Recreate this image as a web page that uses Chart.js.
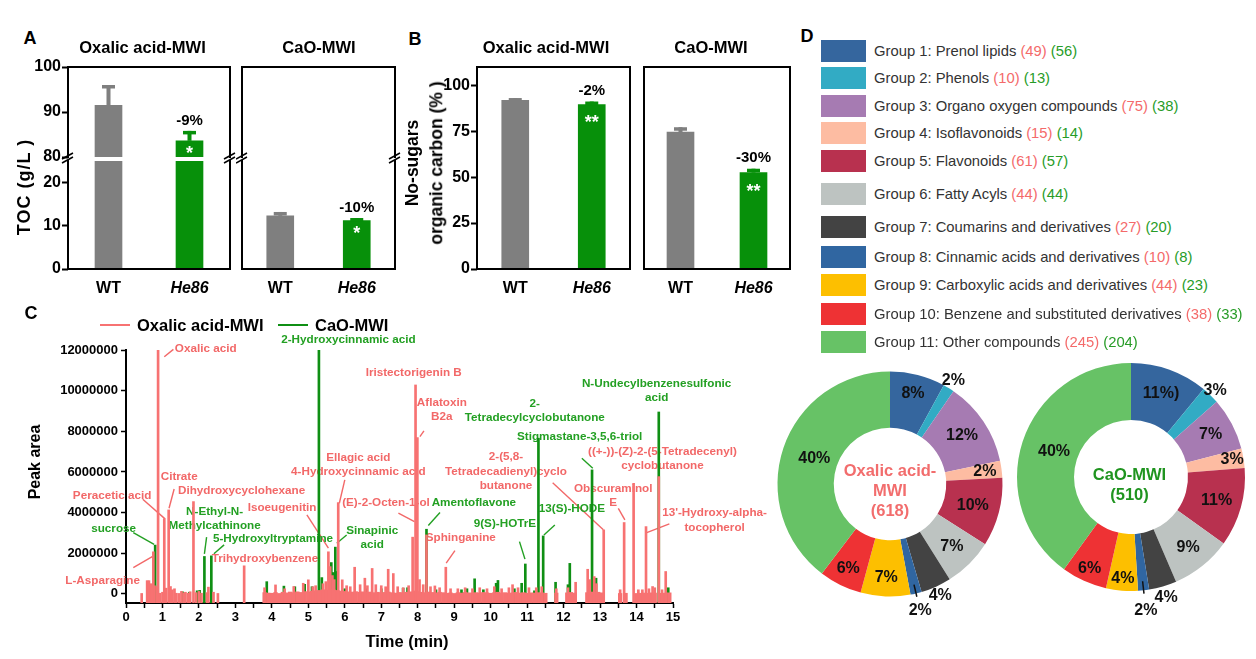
<!DOCTYPE html>
<html>
<head>
<meta charset="utf-8">
<title>Organic carbon and metabolite profiles</title>
<script src="https://cdn.jsdelivr.net/npm/chart.js@4.4.1/dist/chart.umd.min.js"></script>
<style>
  html, body { margin: 0; padding: 0; background: #fff; }
  #page { position: relative; width: 1256px; height: 659px; overflow: hidden;
          font-family: "Liberation Sans", Arial, sans-serif; color: #000; }
  #page canvas { position: absolute; }
  .txt { position: absolute; transform: translate(-50%, -50%); white-space: nowrap;
         line-height: 1; font-weight: bold; }
  .txt.left { transform: translate(0, -50%); }
  .txt.rot { transform: translate(-50%, -50%) rotate(-90deg); }
  .row { position: absolute; left: 821px; height: 22px; display: flex; align-items: center;
         font-size: 14.8px; color: #333; white-space: nowrap; }
  .sw { display: inline-block; width: 45px; height: 22px; margin-right: 8px; }
  .red { color: #f46a6a; }
  .green { color: #279c27; }
  .key { position: absolute; height: 2.5px; }
</style>
</head>
<body>
<div id="page"></div>
<script>
const fam = '"Liberation Sans", Arial, sans-serif';
Chart.defaults.font.family = fam;
Chart.defaults.color = '#000';
Chart.defaults.animation = false;

// ---------- data ----------
const treatments = ['WT', 'He86'];
const treatmentColors = ['#7f7f7f', '#07900a'];

// A: TOC (g/L)
const tocOxalic = [91.5, 83.6];
const tocOxalicErr = [4.5, 2.2];
const tocOxalicNote = ['', '-9%'];
const tocCao = [12.3, 11.2];
const tocCaoErr = [0.9, 0.6];
const tocCaoNote = ['', '-10%'];
const tocStars = ['', '*'];

// B: no-sugars organic carbon (%)
const nsocOxalic = [91.8, 89.6];
const nsocOxalicErr = [1.3, 1.6];
const nsocOxalicNote = ['', '-2%'];
const nsocCao = [74.6, 52.5];
const nsocCaoErr = [2.6, 2.1];
const nsocCaoNote = ['', '-30%'];
const nsocStars = ['', '**'];

// C: peak areas vs retention time (min)
const areaTicks = [0, 2000000, 4000000, 6000000, 8000000, 10000000, 12000000];
const oxalicPeakTimes = [0.43, 0.58, 0.63, 0.68, 0.72, 0.75, 0.78, 0.84, 0.88, 0.93, 1.0, 1.05, 1.1, 1.17, 1.22, 1.27, 1.33, 1.38, 1.45, 1.52, 1.58, 1.63, 1.7, 1.76, 1.85, 1.92, 2.0, 2.07, 2.22, 2.26, 2.4, 2.52, 3.24,
  3.8, 4.1, 4.35, 4.6, 4.86, 5.0, 5.12, 5.2, 5.4, 5.48, 5.55, 5.6, 5.66, 5.71, 5.82, 5.93, 6.05, 6.15, 6.27, 6.42, 6.55, 6.62, 6.75, 6.85, 7.0, 7.12, 7.19, 7.33, 7.45, 7.6, 7.75, 7.86, 7.94, 7.99,
  8.05, 8.15, 8.24, 8.35, 8.47, 8.6, 8.77, 8.9, 9.1, 9.3, 9.5, 9.7, 9.9, 10.1, 10.3, 10.5, 10.6, 10.75, 11.05, 11.25, 11.4, 11.8, 12.12, 12.33, 12.66, 12.72, 12.84, 12.9, 13.1, 13.55, 13.66, 13.92,
  14.05, 14.16, 14.26, 14.34, 14.44, 14.5, 14.61, 14.7, 14.8];
const oxalicPeakAreas = [20000, 650000, 650000, 500000, 360000, 2070000, 400000, 360000, 12000000, 30000, 80000, 3700000, 280000, 4130000, 360000, 200000, 250000, 30000, 20000, 120000, 50000, 80000, 30000, 100000, 4540000, 60000, 120000, 30000, 60000, 330000, 80000, 20000, 1380000,
  300000, 440000, 250000, 360000, 520000, 690000, 350000, 400000, 500000, 600000, 2070000, 1340000, 900000, 700000, 4490000, 690000, 400000, 350000, 1310000, 450000, 770000, 400000, 1250000, 450000, 400000, 350000, 1210000, 1000000, 350000, 300000, 400000, 2790000, 10280000, 7690000,
  700000, 450000, 2900000, 350000, 390000, 300000, 1310000, 250000, 250000, 300000, 250000, 300000, 250000, 350000, 250000, 300000, 450000, 300000, 300000, 300000, 350000, 250000, 300000, 570000, 1210000, 700000, 850000, 500000, 3150000, 200000, 3510000, 5440000,
  200000, 200000, 3310000, 250000, 360000, 300000, 5770000, 200000, 1100000];
const oxalicBaseTimes = [3.8, 3.9, 4.0, 4.1, 4.2, 4.3, 4.4, 4.5, 4.6, 4.7, 4.8, 4.9, 5.0, 5.1, 5.2, 5.3, 5.4, 5.5, 5.6, 5.7, 5.8, 5.9, 6.0, 6.1, 6.2, 6.3, 6.4, 6.5, 6.6, 6.7, 6.8, 6.9, 7.0, 7.1, 7.2, 7.3, 7.4, 7.5, 7.6, 7.7, 7.8, 7.9,
  8.0, 8.1, 8.2, 8.3, 8.4, 8.5, 8.6, 8.7, 8.8, 8.9, 9.0, 9.1, 9.2, 9.3, 9.4, 9.5, 9.6, 9.7, 9.8, 9.9, 10.0, 10.1, 10.2, 10.3, 10.4, 10.5, 10.6, 10.7, 10.8, 10.9, 11.0, 11.1, 11.2, 11.3, 11.4, 11.5,
  11.8, 12.1, 12.2, 12.3, 12.65, 12.75, 12.85, 12.95, 13.05, 13.55, 13.7, 14.0, 14.1, 14.2, 14.3, 14.4, 14.5, 14.7, 14.8, 14.9];
const oxalicBaseAreas = [60000, 40000, 30000, 70000, 20000, 80000, 50000, 90000, 60000, 100000, 70000, 110000, 90000, 130000, 150000, 170000, 200000, 180000, 210000, 190000, 170000, 140000, 120000, 100000, 90000, 110000, 80000, 100000, 70000, 90000, 60000, 80000, 50000, 70000, 90000, 60000, 40000, 70000, 50000, 80000, 100000, 140000,
  110000, 80000, 60000, 90000, 70000, 50000, 80000, 60000, 30000, 50000, 20000, 60000, 40000, 70000, 50000, 30000, 60000, 40000, 70000, 50000, 30000, 60000, 80000, 40000, 60000, 30000, 50000, 70000, 40000, 60000, 30000, 50000, 40000, 60000, 50000, 30000,
  40000, 50000, 70000, 40000, 60000, 90000, 70000, 80000, 50000, 20000, 30000, 20000, 30000, 40000, 30000, 50000, 40000, 30000, 40000, 50000];
const caoPeakTimes = [0.8, 1.55, 1.74, 1.95, 2.02, 2.15, 2.34, 3.86, 4.33, 4.63, 4.9, 5.1, 5.29, 5.37, 5.63, 5.68, 5.74, 5.78, 6.0, 6.6, 7.0, 7.6, 7.72, 8.24, 8.5, 9.2, 9.35, 9.56, 9.8,
  10.15, 10.2, 10.65, 10.85, 10.95, 11.2, 11.31, 11.44, 11.78, 12.12, 12.17, 12.78, 12.89, 14.61, 14.87];
const caoPeakAreas = [2400000, 100000, 80000, 150000, 170000, 1840000, 1870000, 600000, 380000, 350000, 470000, 350000, 12000000, 800000, 1540000, 1050000, 2300000, 1100000, 250000, 250000, 250000, 280000, 300000, 3180000, 200000, 200000, 250000, 740000, 200000,
  520000, 660000, 250000, 520000, 1470000, 150000, 7660000, 2850000, 570000, 450000, 1500000, 6100000, 770000, 8950000, 300000];

// D: compound classes (counts per group)
const groupNames = ['Group 1: Prenol lipids', 'Group 2: Phenols', 'Group 3: Organo oxygen compounds', 'Group 4: Isoflavonoids',
  'Group 5: Flavonoids', 'Group 6: Fatty Acyls', 'Group 7: Coumarins and derivatives', 'Group 8: Cinnamic acids and derivatives',
  'Group 9: Carboxylic acids and derivatives', 'Group 10: Benzene and substituted derivatives', 'Group 11: Other compounds'];
const oxalicCounts = [49, 10, 75, 15, 61, 44, 27, 10, 44, 38, 245];
const caoCounts = [56, 13, 38, 14, 57, 44, 20, 8, 23, 33, 204];
const oxalicPctText = ['8%', '2%', '12%', '2%', '10%', '7%', '4%', '2%', '7%', '6%', '40%'];
const caoPctText = ['11%)', '3%', '7%', '3%', '11%', '9%', '4%', '2%', '4%', '6%', '40%'];
const groupColors = ['#35669e', '#32abc4', '#a67bb2', '#fdbca2', '#b8314f', '#bdc3c1', '#434343', '#3066a1', '#fdbf00', '#ee3234', '#67c266'];

// ---------- styles ----------
const oxalicColor = '#f77272';
const caoColor = '#0f8f14';
const labelColors = { r: '#f26868', g: '#23a023' };

const page = document.getElementById('page');

function addCanvas(left, top, w, h) {
  const c = document.createElement('canvas');
  c.width = w; c.height = h;
  Object.assign(c.style, { left: left + 'px', top: top + 'px', width: w + 'px', height: h + 'px' });
  page.appendChild(c);
  return c;
}

function addText(text, x, y, size, cls, style) {
  const d = document.createElement('div');
  d.className = 'txt' + (cls ? ' ' + cls : '');
  d.textContent = text;
  d.style.left = x + 'px';
  d.style.top = y + 'px';
  d.style.fontSize = size + 'px';
  if (style) Object.assign(d.style, style);
  page.appendChild(d);
  return d;
}

// box around the plot area, with optional axis-break marks on top corners
const framePlugin = {
  id: 'frame',
  afterDraw(chart, args, o) {
    const { ctx, chartArea: a } = chart;
    const seg = (x1, y1, x2, y2) => { ctx.beginPath(); ctx.moveTo(x1, y1); ctx.lineTo(x2, y2); ctx.stroke(); };
    ctx.save();
    ctx.strokeStyle = '#000';
    ctx.lineWidth = 2;
    ctx.lineCap = 'square';
    const s = o.sides || 'ltrb';
    if (s.includes('l')) seg(a.left, a.top, a.left, a.bottom);
    if (s.includes('r')) seg(a.right, a.top, a.right, a.bottom);
    if (s.includes('t')) seg(a.left, a.top, a.right, a.top);
    if (s.includes('b')) seg(a.left, a.bottom, a.right, a.bottom);
    if (o.breaks) {
      ctx.lineWidth = 1.5;
      ctx.lineCap = 'butt';
      [a.left, a.right].forEach(x => {
        [-5, -1].forEach(dy => seg(x - 6, a.top + dy + 3, x + 5, a.top + dy - 3));
      });
    }
    ctx.restore();
  }
};

// error bars, change labels and significance stars
const barNotesPlugin = {
  id: 'barNotes',
  afterDatasetsDraw(chart, args, o) {
    const { ctx, chartArea: a, scales: { y } } = chart;
    const values = chart.data.datasets[0].data;
    ctx.save();
    ctx.beginPath();
    ctx.rect(a.left, a.top, a.right - a.left, a.bottom - a.top);
    ctx.clip();
    chart.getDatasetMeta(0).data.forEach((bar, i) => {
      const yBar = y.getPixelForValue(values[i]);
      const yErr = y.getPixelForValue(values[i] + o.errs[i]);
      ctx.fillStyle = treatmentColors[i];
      ctx.fillRect(bar.x - 2, yErr, 4, yBar - yErr);
      ctx.fillRect(bar.x - 6.5, yErr, 13, 3.5);
      ctx.textAlign = 'center';
      if (o.notes[i]) {
        ctx.fillStyle = '#000';
        ctx.font = 'bold 15px ' + fam;
        ctx.textBaseline = 'bottom';
        ctx.fillText(o.notes[i], bar.x, yErr - 3);
      }
      if (o.stars[i]) {
        ctx.fillStyle = '#fff';
        ctx.font = 'bold 18px ' + fam;
        ctx.textBaseline = 'middle';
        ctx.fillText(o.stars[i], bar.x, yBar + o.starDy);
      }
    });
    ctx.restore();
  }
};

// area = [left, top, right, bottom] of the plot area on the page
function barPanel(area, values, errs, notes, stars, o) {
  const padT = 14, padR = 6;
  const yw = o.yTicks ? o.yw : 6;
  const xh = o.xLabels ? 34 : 12;
  const left = area[0] - yw, top = area[1] - padT;
  const w = area[2] + padR - left, h = area[3] + xh - top;
  const cv = addCanvas(left, top, w, h);
  return new Chart(cv, {
    type: 'bar',
    data: {
      labels: treatments,
      datasets: [{ data: values, backgroundColor: treatmentColors, barThickness: 27, clip: 0 }]
    },
    options: {
      responsive: false,
      // hidden axes still keep the size given in afterFit, so no extra padding here
      layout: { padding: { top: padT, right: padR, left: 0, bottom: 0 } },
      plugins: {
        legend: { display: false },
        tooltip: { enabled: false },
        frame: { sides: o.sides, breaks: o.breaks },
        barNotes: { errs, notes, stars, starDy: o.starDy }
      },
      scales: {
        x: {
          display: o.xLabels,
          grid: { display: false, drawTicks: false },
          border: { display: false },
          ticks: {
            padding: 10,
            font: c => ({ size: 16, weight: 'bold', style: c.index === 1 ? 'italic' : 'normal' })
          },
          afterFit: s => { s.height = xh; }
        },
        y: {
          display: o.yTicks,
          min: o.min, max: o.max,
          grid: { drawOnChartArea: false, tickLength: 6, tickWidth: 2, tickColor: '#000' },
          border: { display: false },
          ticks: { stepSize: o.step, includeBounds: false, padding: 1, font: { size: 16, weight: 'bold' } },
          afterFit: s => { s.width = yw; }
        }
      }
    },
    plugins: [framePlugin, barNotesPlugin]
  });
}

// ---------- panel A (broken y axis: two stacked plots each) ----------
const aUpper = { min: 80, max: 100, step: 10, xLabels: false, sides: 'ltr', starDy: 13 };
const aLower = { min: 0, max: 25, step: 10, xLabels: true, sides: 'lbr', breaks: true, starDy: 13 };
barPanel([68, 67, 230, 157], tocOxalic, tocOxalicErr, tocOxalicNote, tocStars, { ...aUpper, yTicks: true, yw: 48 });
barPanel([68, 161, 230, 269], tocOxalic, tocOxalicErr, tocOxalicNote, tocStars, { ...aLower, yTicks: true, yw: 48 });
barPanel([242, 67, 395, 157], tocCao, tocCaoErr, tocCaoNote, tocStars, { ...aUpper, yTicks: false });
barPanel([242, 161, 395, 269], tocCao, tocCaoErr, tocCaoNote, tocStars, { ...aLower, yTicks: false });

// ---------- panel B ----------
const bOpts = { min: 0, max: 110, step: 25, xLabels: true, sides: 'ltrb', starDy: 19 };
barPanel([477, 67, 630, 269], nsocOxalic, nsocOxalicErr, nsocOxalicNote, nsocStars, { ...bOpts, yTicks: true, yw: 40 });
barPanel([644, 67, 790, 269], nsocCao, nsocCaoErr, nsocCaoNote, nsocStars, { ...bOpts, yTicks: false });

// ---------- panel C ----------
const peakLabels = [
  { text: ['Oxalic acid'], c: 'r', t: 1.34, v: [12.05], align: 'left', lead: [1.05, 11.67, 1.30, 12.03] },
  { text: ['2-Hydroxycinnamic acid'], c: 'g', t: 6.10, v: [12.49] },
  { text: ['Iristectorigenin B'], c: 'r', t: 7.89, v: [10.88] },
  { text: ['Aflatoxin', 'B2a'], c: 'r', t: 8.66, v: [9.41, 8.72], lead: [8.06, 7.74, 8.17, 8.02] },
  { text: ['N-Undecylbenzenesulfonic', 'acid'], c: 'g', t: 14.55, v: [10.36, 9.67] },
  { text: ['2-', 'Tetradecylcyclobutanone'], c: 'g', t: 11.21, v: [9.33, 8.67] },
  { text: ['Stigmastane-3,5,6-triol'], c: 'g', t: 12.44, v: [7.71], lead: [12.50, 6.67, 12.80, 6.18] },
  { text: ['((+-))-(Z)-2-(5-Tetradecenyl)', 'cyclobutanone'], c: 'r', t: 14.71, v: [7.0, 6.31] },
  { text: ['Ellagic acid', '4-Hydroxycinnamic acid'], c: 'r', t: 6.37, v: [6.72, 6.01], lead: [6.0, 5.61, 5.85, 4.46] },
  { text: ['2-(5,8-', 'Tetradecadienyl)cyclo', 'butanone'], c: 'r', t: 10.42, v: [6.75, 6.01, 5.33], lead: [11.70, 5.47, 13.09, 3.15] },
  { text: ['Citrate'], c: 'r', t: 1.46, v: [5.74] },
  { text: ['Dihydroxycyclohexane'], c: 'r', t: 3.17, v: [5.08], lead: [1.32, 5.16, 1.18, 4.21] },
  { text: ['Peracetic acid'], c: 'r', t: -0.38, v: [4.82], lead: [0.46, 4.66, 1.07, 3.69] },
  { text: ['Obscuraminol', 'E'], c: 'r', t: 13.36, v: [5.15, 4.46], lead: [13.50, 4.21, 13.68, 3.64] },
  { text: ['(E)-2-Octen-1-ol'], c: 'r', t: 7.13, v: [4.46], lead: [7.47, 3.97, 7.91, 3.56] },
  { text: ['Isoeugenitin'], c: 'r', t: 4.28, v: [4.26], lead: [4.96, 3.89, 5.55, 2.25] },
  { text: ['Amentoflavone'], c: 'g', t: 9.54, v: [4.46], lead: [8.61, 4.0, 8.29, 3.36] },
  { text: ['13(S)-HODE'], c: 'g', t: 12.23, v: [4.21], lead: [11.76, 3.39, 11.46, 2.90] },
  { text: ["13'-Hydroxy-alpha-", 'tocopherol'], c: 'r', t: 16.14, v: [3.97, 3.26], lead: [14.90, 3.44, 14.28, 3.01] },
  { text: ['9(S)-HOTrE'], c: 'g', t: 10.39, v: [3.43], lead: [10.79, 2.57, 10.94, 1.71] },
  { text: ['Sphinganine'], c: 'r', t: 9.18, v: [2.74], lead: [9.02, 2.13, 8.78, 1.51] },
  { text: ['sucrose'], c: 'g', t: -0.34, v: [3.18], lead: [0.20, 3.01, 0.77, 2.44] },
  { text: ['N-Ethyl-N-', 'Methylcathinone'], c: 'g', t: 2.43, v: [4.05, 3.36], lead: [2.21, 2.79, 2.15, 1.97] },
  { text: ['5-Hydroxyltryptamine'], c: 'g', t: 4.03, v: [2.69], lead: [2.69, 2.41, 2.41, 1.97] },
  { text: ['Sinapinic', 'acid'], c: 'g', t: 6.75, v: [3.10, 2.41], lead: [6.05, 2.90, 5.78, 2.49] },
  { text: ['Trihydroxybenzene'], c: 'r', t: 3.81, v: [1.71] },
  { text: ['L-Asparagine'], c: 'r', t: -0.64, v: [0.65], lead: [0.20, 1.29, 0.72, 1.83] }
];

const peakLabelPlugin = {
  id: 'peakLabels',
  beforeDatasetsDraw(chart) {
    const { ctx, scales: { x, y } } = chart;
    ctx.save();
    ctx.font = 'bold 11.7px ' + fam;
    ctx.textBaseline = 'middle';
    ctx.lineWidth = 1.4;
    peakLabels.forEach(p => {
      const col = labelColors[p.c];
      ctx.fillStyle = col;
      ctx.strokeStyle = col;
      ctx.textAlign = p.align || 'center';
      p.text.forEach((line, k) => ctx.fillText(line, x.getPixelForValue(p.t), y.getPixelForValue(p.v[k] * 1e6)));
      if (p.lead) {
        ctx.beginPath();
        ctx.moveTo(x.getPixelForValue(p.lead[0]), y.getPixelForValue(p.lead[1] * 1e6));
        ctx.lineTo(x.getPixelForValue(p.lead[2]), y.getPixelForValue(p.lead[3] * 1e6));
        ctx.stroke();
      }
    });
    ctx.restore();
  }
};

const pts = (xs, ys) => xs.map((x, i) => ({ x, y: ys[i] }));
const areaMin = -450000;
const chromCanvas = addCanvas(40, 330, 735, 320);
new Chart(chromCanvas, {
  type: 'bar',
  data: {
    datasets: [
      { label: 'Oxalic acid-MWI', data: pts(oxalicPeakTimes, oxalicPeakAreas), backgroundColor: oxalicColor, barThickness: 2 },
      { label: 'Oxalic acid-MWI (baseline)', data: pts(oxalicBaseTimes, oxalicBaseAreas), backgroundColor: oxalicColor, barThickness: 3.6 },
      { label: 'CaO-MWI', data: pts(caoPeakTimes, caoPeakAreas), backgroundColor: caoColor, barThickness: 2 }
    ].map(d => Object.assign(d, { base: areaMin, grouped: false, clip: 0, borderWidth: 0 }))
  },
  options: {
    responsive: false,
    layout: { padding: { top: 20, right: 102 } },
    plugins: { legend: { display: false }, tooltip: { enabled: false } },
    scales: {
      x: {
        type: 'linear', min: 0, max: 15, offset: false,
        grid: { drawOnChartArea: false, offset: false, tickLength: 5, tickWidth: 1.5, tickColor: '#000' },
        border: { color: '#000', width: 2 },
        ticks: {
          stepSize: 0.5, autoSkip: false, maxRotation: 0, padding: 2,
          font: { size: 13, weight: 'bold' },
          callback: v => Number.isInteger(v) ? String(v) : ''
        },
        afterFit: s => { s.height = 47; }
      },
      y: {
        min: areaMin, max: 12000000,
        grid: { drawOnChartArea: false, tickLength: 5, tickWidth: 1.5, tickColor: '#000' },
        border: { color: '#000', width: 2 },
        ticks: { autoSkip: false, padding: 3, font: { size: 13, weight: 'bold' }, callback: v => String(v) },
        afterBuildTicks: s => { s.ticks = areaTicks.map(v => ({ value: v })); },
        afterFit: s => { s.width = 86; }
      }
    }
  },
  plugins: [peakLabelPlugin]
});

// ---------- panel D ----------
const sliceLabelPlugin = {
  id: 'sliceLabels',
  afterDatasetsDraw(chart, args, o) {
    const { ctx } = chart;
    ctx.save();
    ctx.font = 'bold 16px ' + fam;
    ctx.fillStyle = '#111';
    ctx.strokeStyle = '#111';
    ctx.lineWidth = 1.5;
    ctx.textAlign = 'center';
    ctx.textBaseline = 'middle';
    chart.getDatasetMeta(0).data.forEach((arc, i) => {
      const p = arc.getProps(['x', 'y', 'startAngle', 'endAngle', 'outerRadius'], true);
      const mid = (p.startAngle + p.endAngle) / 2;
      const r = p.outerRadius * o.r[i];
      ctx.fillText(o.text[i], p.x + Math.cos(mid) * r, p.y + Math.sin(mid) * r);
      if (o.leader.includes(i)) {
        ctx.beginPath();
        ctx.moveTo(p.x + Math.cos(mid) * p.outerRadius * 0.92, p.y + Math.sin(mid) * p.outerRadius * 0.92);
        ctx.lineTo(p.x + Math.cos(mid) * p.outerRadius * 1.03, p.y + Math.sin(mid) * p.outerRadius * 1.03);
        ctx.stroke();
      }
    });
    ctx.restore();
  }
};

function donut(left, top, w, h, pad, radius, counts, pctText, labelR) {
  const cv = addCanvas(left, top, w, h);
  return new Chart(cv, {
    type: 'doughnut',
    data: { labels: groupNames, datasets: [{ data: counts, backgroundColor: groupColors, borderWidth: 0, hoverOffset: 0 }] },
    options: {
      responsive: false,
      radius: radius,
      cutout: '50%',
      layout: { padding: pad },
      plugins: {
        legend: { display: false },
        tooltip: { enabled: false },
        sliceLabels: { text: pctText, r: labelR, leader: [7] }
      }
    },
    plugins: [sliceLabelPlugin]
  });
}

donut(752, 324, 276, 320, { left: 25.5, right: 25.5, top: 47.5, bottom: 47.5 }, 112.5, oxalicCounts, oxalicPctText,
  [0.83, 1.08, 0.77, 0.85, 0.76, 0.78, 1.09, 1.16, 0.83, 0.84, 0.71]);
donut(1006, 317, 250, 320, { left: 11, right: 11, top: 46, bottom: 46 }, 114, caoCounts, caoPctText,
  [0.78, 1.06, 0.79, 0.9, 0.78, 0.8, 1.1, 1.18, 0.89, 0.88, 0.71]);

// legend of panel D
const legendRowY = [50.7, 77.7, 106, 132.7, 161.3, 194.3, 226.7, 257, 285, 314.3, 341.7];
groupNames.forEach((name, i) => {
  const row = document.createElement('div');
  row.className = 'row';
  row.style.top = (legendRowY[i] - 11) + 'px';
  row.innerHTML = `<span class="sw" style="background:${groupColors[i]}"></span>${name}&nbsp;` +
    `<span class="red">(${oxalicCounts[i]})</span>&nbsp;<span class="green">(${caoCounts[i]})</span>`;
  page.appendChild(row);
});

const total = arr => arr.reduce((s, v) => s + v, 0);
const redC = { color: '#f26d6d' }, greenC = { color: '#1f941f' };
addText('Oxalic acid-', 890, 469.5, 16.5, '', redC);
addText('MWI', 890, 489.5, 16.5, '', redC);
addText('(' + total(oxalicCounts) + ')', 890, 510, 16.5, '', redC);
addText('CaO-MWI', 1129.5, 473.5, 16.5, '', greenC);
addText('(' + total(caoCounts) + ')', 1129.5, 493.5, 16.5, '', greenC);

// ---------- titles and labels ----------
addText('A', 30, 38, 18);
addText('B', 415, 39, 18);
addText('C', 31, 313, 18);
addText('D', 807, 36, 18);
addText('Oxalic acid-MWI', 142.5, 46.5, 16.5);
addText('CaO-MWI', 319, 46.5, 16.5);
addText('Oxalic acid-MWI', 546, 46.5, 16.5);
addText('CaO-MWI', 711, 46.5, 16.5);
addText('TOC (g/L )', 24, 186.5, 18, 'rot', { letterSpacing: '1px' });
addText('No-sugars', 413, 163, 17.5, 'rot');
addText('organic carbon (% )', 437, 163, 17.5, 'rot');
addText('Peak area', 35, 462, 16, 'rot');
addText('Time (min)', 407, 641, 16.5);

// legend of panel C
function addKey(x, y, w, color) {
  const k = document.createElement('div');
  k.className = 'key';
  Object.assign(k.style, { left: x + 'px', top: (y - 1.25) + 'px', width: w + 'px', background: color });
  page.appendChild(k);
}
addKey(100, 325, 30, oxalicColor);
addText('Oxalic acid-MWI', 137, 325, 16.5, 'left');
addKey(278, 325, 30, caoColor);
addText('CaO-MWI', 315, 325, 16.5, 'left');
</script>
</body>
</html>
